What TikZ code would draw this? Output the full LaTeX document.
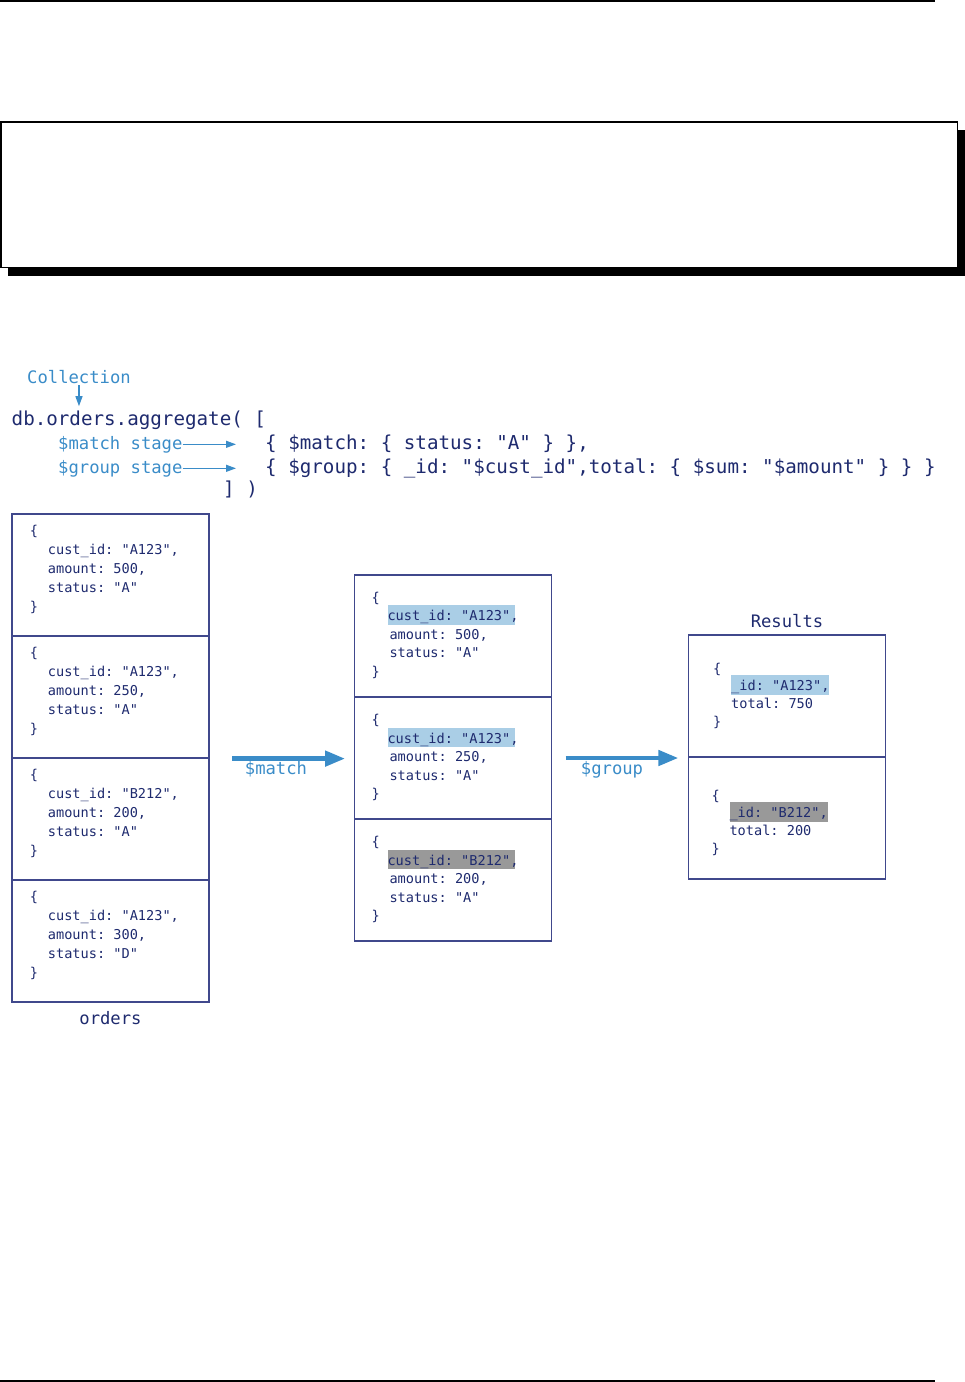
\documentclass[tikz,border=0pt]{standalone}
\usepackage{fontspec}
\usepackage{xcolor}
\usepackage{tikz}
\usetikzlibrary{arrows.meta,positioning}
\newfontfamily\codefont{DejaVu Sans Mono}
\definecolor{ink}{RGB}{30,42,110}
\definecolor{sky}{RGB}{58,140,200}
\definecolor{edge}{RGB}{64,72,140}
\definecolor{hlA}{RGB}{170,206,230}
\definecolor{hlB}{RGB}{153,153,153}
\newcommand{\ind}{\hspace*{18pt}}
\newcommand{\hl}[2]{{\setlength{\fboxsep}{0pt}\colorbox{#1}{\rule[-4pt]{0pt}{19.5pt}#2}}}
\frenchspacing

\begin{document}
\begin{tikzpicture}[x=1pt, y=-1pt,
  doc/.style={draw=edge, line width=1.2pt, minimum width=197pt, minimum height=122pt, inner sep=0pt},
  tx/.style={anchor=base west, align=left, inner sep=0pt, text=ink, font=\codefont\fontsize{13.6pt}{19pt}\selectfont},
  cd/.style={anchor=base west, inner sep=0pt, text=ink, font=\codefont\fontsize{19.2pt}{23pt}\selectfont},
  lb/.style={anchor=base west, inner sep=0pt, text=sky, font=\codefont\fontsize{17.2pt}{21pt}\selectfont},
  hd/.style={inner sep=0pt, text=ink, font=\codefont\fontsize{17.2pt}{21pt}\selectfont},
  a/.style={-{Triangle[length=10pt, width=7pt]}, sky, line width=1.2pt},
  A/.style={-{Triangle[length=20pt, width=15pt]}, sky, line width=4.5pt}]
 \useasboundingbox (0,0) rectangle (965,1382);
 % page rules and empty frame
 \draw[line width=1.3pt] (0,1) -- (935,1);
 \draw[line width=1.3pt] (0,1381) -- (935,1381);
 \fill (7.5,129.5) rectangle (965,276);
 \draw[line width=1.3pt, fill=white] (1,122) rectangle (957.5,267.5);
 % Command
 \node[lb] (coll) at (27,383) {Collection};
 \node[cd] (db) at (11.5,425) {db.orders.aggregate( [};
 \node[lb] (ms) at (58,449) {\$match stage};
 \node[lb] (gs) at (58,473) {\$group stage};
 \node[cd] (mc) at (265,449) {\{ \$match: \{ status: "A" \} \},};
 \node[cd] (gc) at (265,473) {\{ \$group: \{ \_id: "\$cust\_id",total: \{ \$sum: "\$amount" \} \} \}};
 \node[cd] (cl) at (223,495) {] )};
 \draw[a, shorten <=2pt, shorten >=4pt] (coll.south) -- (coll.south |- db.north);
 \draw[a, shorten >=29pt] (ms.east) -- (ms.east -| mc.west);
 \draw[a, shorten >=29pt] (gs.east) -- (gs.east -| gc.west);
 % orders (text nodes sit on the baseline of their last line)
 \node[doc] (o1) at (110.5,575) {};
 \node[doc] (o2) at (110.5,697) {};
 \node[doc] (o3) at (110.5,819) {};
 \node[doc] (o4) at (110.5,941) {};
 \node[tx] (o1t) at (29.7,611.6) {\{\\\ind cust\_id: "A123",\\\ind amount: 500,\\\ind status: "A"\\\}};
 \node[tx] (o2t) at (29.7,733.4) {\{\\\ind cust\_id: "A123",\\\ind amount: 250,\\\ind status: "A"\\\}};
 \node[tx] (o3t) at (29.7,855.2) {\{\\\ind cust\_id: "B212",\\\ind amount: 200,\\\ind status: "A"\\\}};
 \node[tx] (o4t) at (29.7,977) {\{\\\ind cust\_id: "A123",\\\ind amount: 300,\\\ind status: "D"\\\}};
 \node[hd, below=9pt of o4] (ord) {orders};
 % after $match
 \node[doc] (m1) at (453,636) {};
 \node[doc] (m2) at (453,758) {};
 \node[doc] (m3) at (453,880) {};
 \node[tx, font=\codefont\fontsize{13.6pt}{18.5pt}\selectfont] (m1t) at (371.3,676) {\{\\\hspace*{16pt}\hl{hlA}{cust\_id: "A123",\hspace{-4pt}}\\\ind amount: 500,\\\ind status: "A"\\\}};
 \node[tx, font=\codefont\fontsize{13.6pt}{18.5pt}\selectfont] (m2t) at (371.3,798.5) {\{\\\hspace*{16pt}\hl{hlA}{cust\_id: "A123",\hspace{-4pt}}\\\ind amount: 250,\\\ind status: "A"\\\}};
 \node[tx, font=\codefont\fontsize{13.6pt}{18.5pt}\selectfont] (m3t) at (371.3,920.5) {\{\\\hspace*{16pt}\hl{hlB}{cust\_id: "B212",\hspace{-4pt}}\\\ind amount: 200,\\\ind status: "A"\\\}};
 \draw[A, shorten <=22.7pt, shorten >=8.8pt] (o2.south east) -- (o2.south east -| m2.west);
 \node[lb, anchor=base] (mt) at (276,774) {\$match};
 % Results
 \node[doc] (r1) at (787,696) {};
 \node[doc] (r2) at (787,818) {};
 \node[hd, above=6.5pt of r1] (res) {Results};
 \node[tx, font=\codefont\fontsize{13.6pt}{17.8pt}\selectfont] (r1t) at (713,726.4) {\{\\\ind \hl{hlA}{\_id: "A123",}\\\ind total: 750\\\}};
 \node[tx, font=\codefont\fontsize{13.6pt}{17.8pt}\selectfont] (r2t) at (711.3,853.4) {\{\\\ind \hl{hlB}{\_id: "B212",}\\\ind total: 200\\\}};
 \draw[A, shorten <=13.5pt, shorten >=9.5pt] (m2.east) -- (m2.east -| r1.west);
 \node[lb, anchor=base] (gt) at (612,774) {\$group};
\end{tikzpicture}
\end{document}
